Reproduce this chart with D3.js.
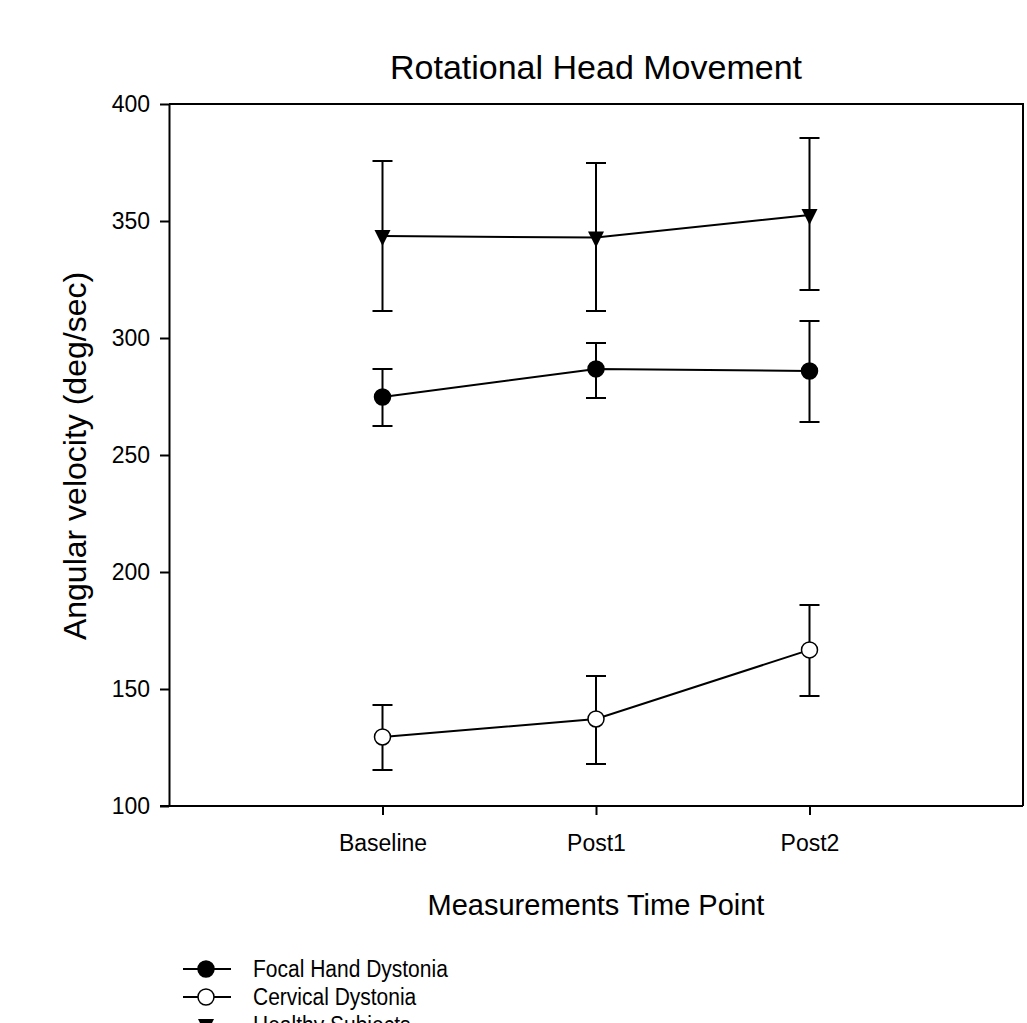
<!DOCTYPE html>
<html>
<head>
<meta charset="utf-8">
<script src="https://cdn.jsdelivr.net/npm/d3@7"></script>
<style>
body { margin: 0; background: #fff; }
svg { display: block; font-family: "Liberation Sans", Arial, sans-serif; }
</style>
</head>
<body>
<div id="chart"></div>
<script>
// time points and group means / error bar limits
var timePoints = ['Baseline', 'Post1', 'Post2'];
var yTicks = [100, 150, 200, 250, 300, 350, 400];

var focalMean = [274.8, 286.8, 285.9];
var focalLow = [262.4, 274.4, 264.1];
var focalHigh = [286.8, 297.9, 307.3];

var cervicalMean = [129.5, 137.2, 166.7];
var cervicalLow = [115.4, 117.9, 147.0];
var cervicalHigh = [143.2, 155.6, 185.9];

var healthyMean = [343.6, 342.9, 352.6];
var healthyLow = [311.5, 311.5, 320.5];
var healthyHigh = [375.6, 374.8, 385.5];

var legendNames = ['Focal Hand Dystonia', 'Cervical Dystonia', 'Healthy Subjects'];

var W = 1027, H = 1023;
var plotL = 169, plotR = 1023, plotT = 104, plotB = 806;

var svg = d3.select('#chart').append('svg')
  .attr('width', W)
  .attr('height', H);

var x = d3.scaleLinear().domain([0, 4]).range([plotL, plotR]);
var y = d3.scaleLinear().domain([100, 400]).range([plotB, plotT]);

// frame (top + right)
svg.append('path')
  .attr('d', 'M' + plotL + ',' + plotT + 'H' + plotR + 'V' + plotB)
  .style('fill', 'none')
  .style('stroke', '#000')
  .style('stroke-width', 2);

var yAxis = svg.append('g')
  .attr('transform', 'translate(' + plotL + ',0)')
  .call(d3.axisLeft(y).tickValues(yTicks).tickSize(9).tickPadding(10).tickSizeOuter(0));

var xAxis = svg.append('g')
  .attr('transform', 'translate(0,' + plotB + ')')
  .call(d3.axisBottom(x).tickValues([1, 2, 3]).tickFormat(function(d) { return timePoints[d - 1]; })
    .tickSize(9).tickPadding(20).tickSizeOuter(0));

[yAxis, xAxis].forEach(function(g) {
  g.select('.domain').style('stroke-width', 2);
  g.selectAll('.tick line').style('stroke-width', 2);
  g.selectAll('.tick text').style('font-size', '23px').style('fill', '#000')
    .style('font-family', '"Liberation Sans", Arial, sans-serif');
});
xAxis.select('.domain').attr('d', 'M' + (plotL - 9) + ',0H' + plotR);

svg.append('text')
  .attr('x', x(2))
  .attr('y', 79)
  .attr('text-anchor', 'middle')
  .style('font-size', '34px')
  .text('Rotational Head Movement');

svg.append('text')
  .attr('transform', 'translate(86,' + 456 + ') rotate(-90)')
  .attr('text-anchor', 'middle')
  .style('font-size', '32px')
  .text('Angular velocity (deg/sec)');

svg.append('text')
  .attr('x', x(2))
  .attr('y', 915)
  .attr('text-anchor', 'middle')
  .style('font-size', '29px')
  .text('Measurements Time Point');

var series = [
  { mean: focalMean, low: focalLow, high: focalHigh, marker: 'filled' },
  { mean: cervicalMean, low: cervicalLow, high: cervicalHigh, marker: 'open' },
  { mean: healthyMean, low: healthyLow, high: healthyHigh, marker: 'tri' }
];

var line = d3.line()
  .x(function(d, i) { return x(i + 1); })
  .y(function(d) { return y(d); });

function drawMarker(g, cx, cy, kind) {
  if (kind == 'tri') {
    g.append('path')
      .attr('d', 'M' + (cx - 8) + ',' + (cy - 6) + 'H' + (cx + 8) + 'L' + cx + ',' + (cy + 10) + 'Z')
      .style('fill', '#000');
  } else {
    g.append('circle')
      .attr('cx', cx).attr('cy', cy).attr('r', 8)
      .style('fill', kind == 'filled' ? '#000' : '#fff')
      .style('stroke', '#000')
      .style('stroke-width', 1.5);
  }
}

series.forEach(function(s) {
  var g = svg.append('g');
  g.append('path')
    .attr('d', line(s.mean))
    .style('fill', 'none')
    .style('stroke', '#000')
    .style('stroke-width', 2);

  s.mean.forEach(function(m, i) {
    var cx = x(i + 1);
    g.append('path')
      .attr('d', 'M' + cx + ',' + y(s.low[i]) + 'V' + y(s.high[i]) +
        'M' + (cx - 10) + ',' + y(s.low[i]) + 'h20' +
        'M' + (cx - 10) + ',' + y(s.high[i]) + 'h20')
      .style('fill', 'none')
      .style('stroke', '#000')
      .style('stroke-width', 2);
    drawMarker(g, cx, y(m), s.marker);
  });
});

// legend (third row runs off the bottom edge like in the original)
var legend = svg.append('g');
legendNames.forEach(function(name, i) {
  var ly = 969 + i * 28;
  legend.append('line')
    .attr('x1', 183).attr('x2', 231)
    .attr('y1', ly).attr('y2', ly)
    .style('stroke', '#000')
    .style('stroke-width', 2);
  drawMarker(legend, 206, ly, series[i].marker);
  legend.append('text')
    .attr('transform', 'translate(253,' + (ly + 8) + ') scale(1,1.12)')
    .style('font-size', '21px')
    .text(name);
});
</script>
</body>
</html>
